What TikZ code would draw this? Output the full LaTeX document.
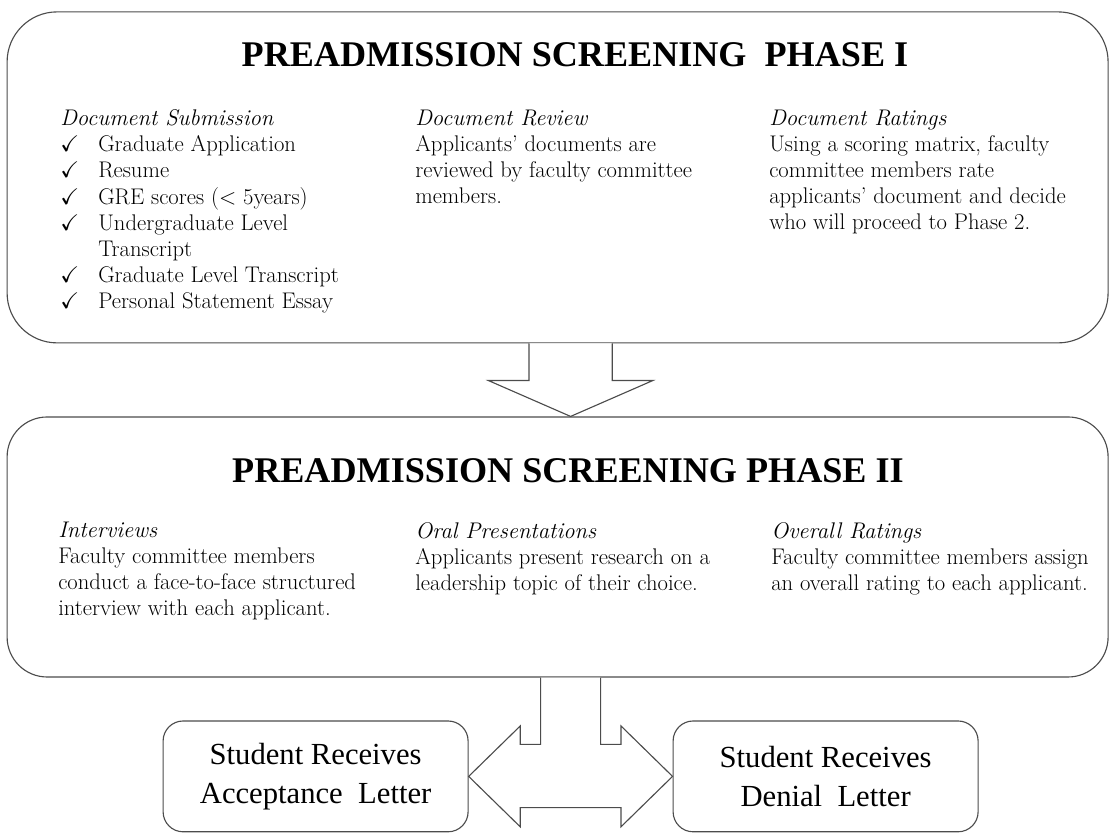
\documentclass[tikz,border=0pt]{standalone}
\usepackage{fontspec}
\usepackage{amssymb}
\usetikzlibrary{positioning, calc}
\newfontfamily\headfont{Liberation Serif}
\newcommand{\tick}{\makebox[0.95cm][l]{$\checkmark$}}

\begin{document}
\begin{tikzpicture}[
        phase/.style={draw=black!70, line width=0.8pt, minimum width=27.525cm, inner sep=0},
        title/.style={anchor=base, font=\headfont\fontsize{25.7}{30}\selectfont\bfseries},
        column/.style={anchor=north west, align=left, inner sep=0, font=\fontsize{16.1}{18.6}\selectfont},
        letter/.style={draw=black!70, line width=0.8pt, rounded corners=0.5cm, minimum width=7.625cm, minimum height=2.77cm, align=center, font=\headfont\fontsize{21.8}{27.7}\selectfont},
        blockarrow/.style={draw=black!70, line width=0.8pt, fill=white}
    ]
        \useasboundingbox (0,0) rectangle (27.775,20.825);

        % Phase I
        \node[phase, rounded corners=1.25cm, minimum height=8.275cm] (ph1) at (13.94,16.39) {};
        \node[title] (title1) at (14.375,19.15) {PREADMISSION SCREENING\ \ PHASE I};
        \node[column] (submit) at (1.5,18.09) {
            \textit{Document Submission}\\
            \tick Graduate Application\\
            \tick Resume\\
            \tick GRE scores (\textless\ 5years)\\
            \tick Undergraduate Level\\
            \hspace*{0.95cm}Transcript\\
            \tick Graduate Level Transcript\\
            \tick Personal Statement Essay
        };
        \node[column] (review) at (10.375,18.09) {
            \textit{Document Review}\\
            Applicants' documents are\\
            reviewed by faculty committee\\
            members.
        };
        \node[column] (rating) at (19.225,18.09) {
            \textit{Document Ratings}\\
            Using a scoring matrix, faculty\\
            committee members rate\\
            applicants' document and decide\\
            who will proceed to Phase 2.
        };

        % Phase II
        \node[phase, rounded corners=1.0cm, minimum height=6.5cm] (ph2) at (13.94,7.15) {};
        \node[title] (title2) at (14.2,8.75) {PREADMISSION SCREENING PHASE II};
        \node[column] (interview) at (1.45,7.78) {
            \textit{Interviews}\\
            Faculty committee members\\
            conduct a face-to-face structured\\
            interview with each applicant.
        };
        \node[column] (oral) at (10.375,7.78) {
            \textit{Oral Presentations}\\
            Applicants present research on a\\
            leadership topic of their choice.
        };
        \node[column] (overall) at (19.275,7.78) {
            \textit{Overall Ratings}\\
            Faculty committee members assign\\
            an overall rating to each applicant.
        };

        % Decision letters
        \node[letter] (accept) at (7.89,1.415) {Student Receives\\Acceptance\ \ Letter};
        \node[letter] (deny) at (20.64,1.415) {Student Receives\\Denial\ \ Letter};

        % Arrows
        \coordinate (mid) at ($(accept.east)!0.5!(deny.west)$);
        \coordinate (dtop) at (mid |- ph1.south);
        \draw[blockarrow] ($(dtop)+(-1.04,0)$) -- ++(0,-0.925) -- ++(-1.02,0)
            -- (mid |- ph2.north) -- ($(dtop)+(2.06,-0.925)$) -- ++(-1.02,0) -- ++(0,0.925);

        \coordinate (sl) at ($(mid)+(-0.75,0)$);
        \coordinate (sr) at ($(mid)+(0.75,0)$);
        \draw[blockarrow] (sl |- ph2.south) -- ($(mid)+(-0.75,0.8)$) -- ($(mid)+(-1.26,0.8)$)
            -- ($(mid)+(-1.26,1.26)$) -- (accept.east) -- ($(mid)+(-1.26,-1.26)$)
            -- ($(mid)+(-1.26,-0.78)$) -- ($(mid)+(1.26,-0.78)$) -- ($(mid)+(1.26,-1.26)$)
            -- (deny.west) -- ($(mid)+(1.26,1.26)$) -- ($(mid)+(1.26,0.8)$)
            -- ($(mid)+(0.75,0.8)$) -- (sr |- ph2.south);
    \end{tikzpicture}
\end{document}
